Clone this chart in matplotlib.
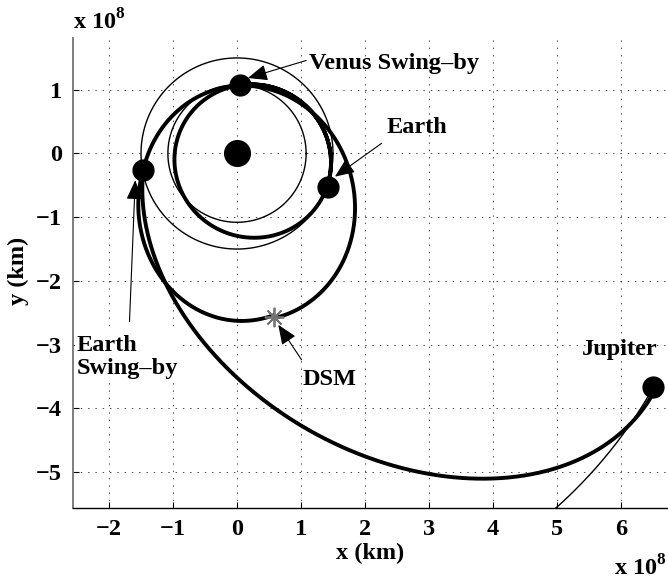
import matplotlib
matplotlib.use('Agg')
import matplotlib.pyplot as plt
import numpy as np

plt.rcParams['font.family'] = ['Liberation Serif', 'DejaVu Serif']
plt.rcParams['font.weight'] = 'bold'
plt.rcParams['mathtext.fontset'] = 'custom'
plt.rcParams['mathtext.rm'] = 'Liberation Serif:bold'
plt.rcParams['mathtext.bf'] = 'Liberation Serif:bold'

# planet orbits (1e8 km): radius and drawn longitude range (deg)
orbit_radii = [1.08, 1.50, 7.47]   # Venus, Earth, Jupiter
orbit_start = [0.0, 0.0, 290.0]
orbit_end = [360.0, 360.0, 330.6]

# trajectory legs as conics around the Sun: semi-latus p, eccentricity e,
# perihelion angle w (deg), true-longitude range (deg)
leg_names = ['Earth-Venus', 'Earth-DSM', 'DSM-Earth', 'Earth-Jupiter']
leg_p = [1.1685, 1.411, 1.509, 2.273]
leg_e = [0.2219, 0.4637, 0.4305, 0.6975]
leg_w = [154.2, 93.5, 101.9, 149.5]
leg_start = [-20.2, 190.0, 282.7, 190.0]
leg_end = [447.3, 282.7, 550.0, 330.6]

# bodies
planet_x = [1.417, 0.047, -1.464, 6.505]
planet_y = [-0.52, 1.075, -0.259, -3.66]
dsm_x, dsm_y = 0.578, -2.56

fig = plt.figure(figsize=(6.68, 5.79), dpi=100)
ax = fig.add_axes([73 / 668, 71 / 579, 595 / 668, 470 / 579])

for r, a0, a1 in zip(orbit_radii, orbit_start, orbit_end):
    th = np.radians(np.linspace(a0, a1, 1500))
    ax.plot(r * np.cos(th), r * np.sin(th), color='k', lw=1.0, zorder=3)

for p, e, w, a0, a1 in zip(leg_p, leg_e, leg_w, leg_start, leg_end):
    th = np.radians(np.linspace(a0, a1, 800))
    r = p / (1 + e * np.cos(th - np.radians(w)))
    ax.plot(r * np.cos(th), r * np.sin(th), color='k', lw=2.8, zorder=4,
            solid_capstyle='round')

ax.plot(0, 0, 'o', color='k', ms=19.5, mew=0, zorder=5)
ax.plot(planet_x, planet_y, 'o', color='k', ms=16, mew=0, zorder=5, ls='none')
ax.plot(dsm_x, dsm_y, marker=(8, 2, 0), color='0.45', ms=14, mew=1.3, zorder=6, ls='none')

arrow = dict(arrowstyle='-|>,head_length=0.6,head_width=0.25', mutation_scale=20,
             lw=0.8, color='k', shrinkA=0, shrinkB=0)
fs = 17.5
ax.annotate('', xy=(0.17, 1.185), xytext=(1.08, 1.46), arrowprops=arrow, zorder=7)
ax.text(1.12, 1.42, 'Venus Swing\u2013by', fontsize=fs, fontweight='bold', va='center', ha='left')

ax.annotate('', xy=(1.53, -0.364), xytext=(2.26, 0.16), arrowprops=arrow, zorder=7)
ax.text(2.33, 0.415, 'Earth', fontsize=fs, fontweight='bold', va='center', ha='left')

ax.annotate('', xy=(-1.59, -0.42), xytext=(-1.68, -2.64), arrowprops=arrow, zorder=7)
ax.text(-2.50, -3.19, 'Earth\nSwing\u2013by', fontsize=fs, fontweight='bold', va='center', ha='left',
        linespacing=1.15, zorder=8,
        bbox=dict(facecolor='white', edgecolor='none', pad=1.5))

ax.annotate('', xy=(0.645, -2.69), xytext=(1.01, -3.24), arrowprops=arrow, zorder=7)
ax.text(1.45, -3.54, 'DSM', fontsize=fs, fontweight='bold', va='center', ha='center')

ax.text(5.98, -3.08, 'Jupiter', fontsize=fs, fontweight='bold', va='center', ha='center')

ax.set_xlim(-2.5625, 6.734)
ax.set_ylim(-5.565, 1.813)
ax.set_xticks(np.arange(-2, 7, 1))
ax.set_yticks(np.arange(-5, 2, 1))
ax.tick_params(direction='in', length=4, labelsize=fs, pad=8, top=False, right=False)
for lab in ax.get_xticklabels() + ax.get_yticklabels():
    lab.set_fontweight('bold')
ax.grid(True, color='0.3', lw=0.7, linestyle=(0, (1.5, 6)))
ax.spines['top'].set_visible(False)
ax.spines['right'].set_visible(False)
ax.spines['left'].set_color('0.45')
ax.spines['left'].set_linewidth(1.3)
ax.spines['bottom'].set_linewidth(1.0)

fig.text(370 / 668, 1 - 553 / 579, 'x (km)', fontsize=fs, fontweight='bold', ha='center', va='center')
fig.text(18 / 668, 1 - 271 / 579, 'y (km)', fontsize=fs, fontweight='bold', ha='center', va='center',
         rotation=90)
fig.text(73 / 668, 1 - 30 / 579, r'x 10$^{8}$', fontsize=fs, ha='left', va='baseline')
fig.text(614 / 668, 1 - 575 / 579, r'x 10$^{8}$', fontsize=fs, ha='left', va='baseline')

fig.savefig('out.png', dpi=100)
